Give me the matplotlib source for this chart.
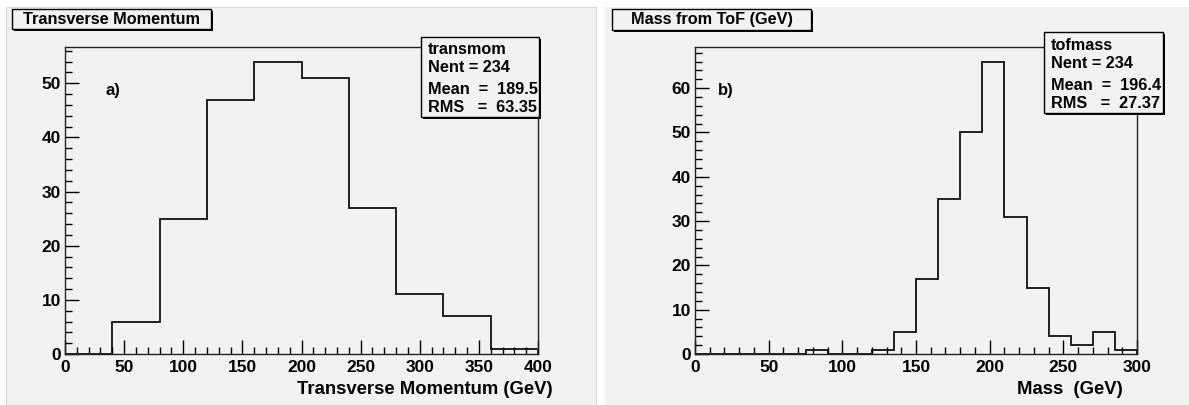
import matplotlib
matplotlib.use('Agg')
import matplotlib.pyplot as plt
from matplotlib.patches import Rectangle
from matplotlib.ticker import MultipleLocator

# histogram contents
edges_a = [0, 40, 80, 120, 160, 200, 240, 280, 320, 360, 400]
counts_a = [0, 6, 25, 47, 54, 51, 27, 11, 7, 1]
stats_a = ['transmom', 'Nent = 234', 'Mean  =  189.5', 'RMS   =  63.35']

edges_b = [0, 15, 30, 45, 60, 75, 90, 105, 120, 135, 150,
           165, 180, 195, 210, 225, 240, 255, 270, 285, 300]
counts_b = [0, 0, 0, 0, 0, 1, 0, 0, 1, 5, 17, 35, 50, 66, 31, 15, 4, 2, 5, 1]
stats_b = ['tofmass', 'Nent = 234', 'Mean  =  196.4', 'RMS   =  27.37']

W, H = 1189, 405
PADC = '#f2f2f2'
plt.rcParams['font.family'] = ['Liberation Sans', 'DejaVu Sans']
plt.rcParams['font.weight'] = 'bold'

fig = plt.figure(figsize=(W/100, H/100), dpi=100)

def fx(x):
    return x / W

def fy(y):
    return 1 - y / H

def box(x0, y0, x1, y1, shadow=2):
    # ROOT style box with a black drop shadow
    fig.patches.append(Rectangle((fx(x0+shadow), fy(y1+shadow)), fx(x1-x0), (y1-y0)/H,
                                 transform=fig.transFigure, facecolor='black', edgecolor='none', zorder=5))
    fig.patches.append(Rectangle((fx(x0), fy(y1)), fx(x1-x0), (y1-y0)/H,
                                 transform=fig.transFigure, facecolor=PADC, edgecolor='black', lw=1.0, zorder=6))

# pads
fig.patches.append(Rectangle((fx(6), 0), fx(596-6), fy(7), transform=fig.transFigure,
                             facecolor=PADC, edgecolor='#d8d8d8', lw=0.8, zorder=-10))
fig.patches.append(Rectangle((fx(605), 0), fx(1189-605), fy(7), transform=fig.transFigure,
                             facecolor=PADC, edgecolor='none', zorder=-10))

def panel(x0, x1, edges, counts, xmax, ymax, title, tbox, tag, tagpos, stats, sbox, lines, xlabel, xlab_x):
    ax = fig.add_axes([fx(x0), fy(354), fx(x1-x0), (354-47)/H])
    ax.set_zorder(1)
    ax.set_facecolor(PADC)
    ax.stairs(counts, edges, color='#111111', lw=1.3, baseline=0)
    ax.set_xlim(0, xmax)
    ax.set_ylim(0, ymax)
    ax.xaxis.set_major_locator(MultipleLocator(50))
    ax.xaxis.set_minor_locator(MultipleLocator(10))
    ax.yaxis.set_major_locator(MultipleLocator(10))
    ax.yaxis.set_minor_locator(MultipleLocator(2))
    ax.tick_params(which='major', direction='in', length=10, width=1, labelsize=12.5, pad=4)
    ax.tick_params(axis='y', which='major', pad=3)
    ax.tick_params(which='minor', direction='in', length=5, width=1)
    for lab in ax.get_xticklabels() + ax.get_yticklabels():
        lab.set_fontweight('bold')
    for s in ax.spines.values():
        s.set_linewidth(1.0)
        s.set_color('#222222')
    ax.set_xlabel(xlabel, fontsize=13.3, fontweight='bold', loc='right')
    ax.xaxis.set_label_coords(xlab_x, -0.088)
    ax.text(fx(tagpos[0]), fy(tagpos[1]), tag, transform=fig.transFigure,
            fontsize=12, fontweight='bold', ha='left', va='center')

    box(*tbox)
    fig.text(fx((tbox[0]+tbox[2])/2), fy((tbox[1]+tbox[3])/2), title, fontsize=11.7,
             fontweight='bold', ha='center', va='center', zorder=7)
    box(*sbox)
    for txt, yy in zip(stats, lines):
        fig.text(fx(sbox[0]+7), fy(yy), txt, fontsize=11.7, fontweight='bold',
                 ha='left', va='center', zorder=7)
    return ax

panel(65, 538, edges_a, counts_a, 400, 56.7, 'Transverse Momentum', (12, 9, 211, 29),
      'a)', (105, 91), stats_a, (421, 37, 539, 117), [49, 68, 89, 107],
      'Transverse Momentum (GeV)', 1.03)
panel(695, 1137, edges_b, counts_b, 300, 69.3, 'Mass from ToF (GeV)', (612, 9, 811, 30),
      'b)', (718, 90), stats_b, (1044, 32, 1163, 113), [45, 64, 85, 103],
      'Mass  (GeV)', 0.968)

fig.savefig('out.png', dpi=100, facecolor='white')
